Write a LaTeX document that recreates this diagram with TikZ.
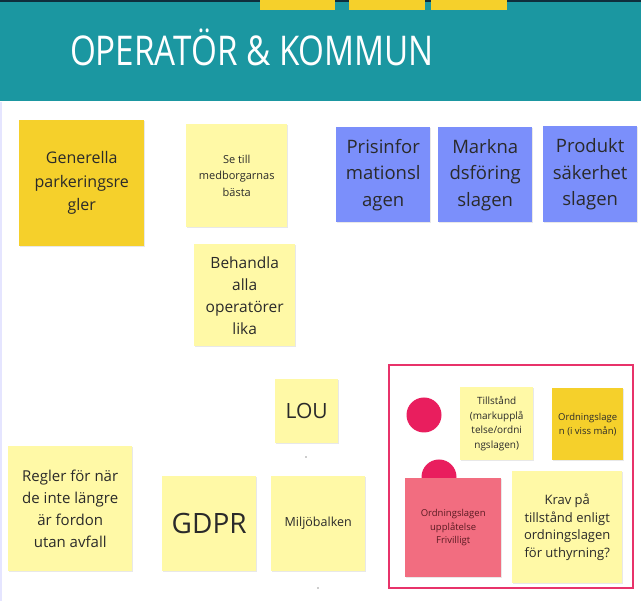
\documentclass[tikz,border=0pt]{standalone}
\usepackage{fontspec}
\setmainfont{Open Sans}
\usetikzlibrary{shadows}
\definecolor{teal}{HTML}{1B97A1}
\definecolor{navy}{HTML}{0F2E3D}
\definecolor{gold}{HTML}{F5D02B}
\definecolor{pale}{HTML}{FFF9A6}
\definecolor{lav}{HTML}{7B8FFB}
\definecolor{rose}{HTML}{F26D80}
\definecolor{frame}{HTML}{E8336A}
\definecolor{dot}{HTML}{E91E5E}
\definecolor{ink}{HTML}{2A2A2A}
\definecolor{wine}{HTML}{5A1A22}
\tikzset{
  note/.style={anchor=north west, inner sep=0pt, align=center, text=ink,
    drop shadow={opacity=0.18, shadow xshift=0.6pt, shadow yshift=-1pt}},
  fs/.style 2 args={font=\fontsize{#1}{#2}\selectfont}
}
\begin{document}
\begin{tikzpicture}[x=1pt, y=-1pt]
  \useasboundingbox (0,0) rectangle (641,601);
  \fill[white] (0,0) rectangle (641,601);
  % header band
  \fill[teal] (0,0) rectangle (641,101);
  \fill[navy] (0,0) rectangle (641,2);
  \foreach \xa/\xb in {260/335, 349/425, 431/507}
    \fill[gold] (\xa,0) rectangle (\xb,10);
  \node[text=white, font=\fontsize{41}{41}\selectfont] (title) at (252,47)
    {\scalebox{0.81}[1]{OPERATÖR \& KOMMUN}};
  \fill[blue!10] (0,102) rectangle (1.5,601);

  % left column
  \node[note, fill=gold, minimum width=125, minimum height=126, fs={16}{23.5}] (allm) at (19,120)
    {Generella\\parkeringsre\\gler};
  \node[note, fill=pale, minimum width=101, minimum height=103, fs={11}{16.5}] (basta) at (186,124)
    {Se till\\medborgarnas\\bästa};
  \node[note, fill=pale, minimum width=101, minimum height=102, fs={15.5}{22}] (lika) at (194,244)
    {Behandla\\alla\\operatörer\\lika};

  % lagar
  \node[note, fill=lav, minimum width=94, minimum height=95, fs={18.5}{26.5}] (pris) at (336,127)
    {Prisinfor\\mationsl\\agen};
  \node[note, fill=lav, minimum width=94, minimum height=95, fs={18.5}{26.5}] (mark) at (438,127)
    {Markna\\dsföring\\slagen};
  \node[note, fill=lav, minimum width=94, minimum height=96, fs={18.5}{26.5}] (prod) at (543,126)
    {Produkt\\säkerhet\\slagen};

  % bottom row
  \node[note, fill=pale, minimum width=63, minimum height=64, fs={21}{25}] (lou) at (275,379) {LOU};
  \node[note, fill=pale, minimum width=124, minimum height=125, fs={15}{22}] (fordon) at (8,446)
    {Regler för när\\de inte längre\\är fordon\\utan avfall};
  \node[note, fill=pale, minimum width=94, minimum height=95, fs={28}{32}] (gdpr) at (162,476) {GDPR};
  \node[note, fill=pale, minimum width=94, minimum height=95, fs={12.5}{16}] (miljo) at (271,476) {Miljöbalken};
  \fill[ink] (306,457) circle (0.7);
  \fill[ink] (318,588) circle (0.7);

  % ordningslagen group
  \draw[frame, line width=2] (389,365) rectangle (633,588);
  \fill[dot] (424,415) circle (17.5);
  \fill[dot] (439,477) circle (17.5);
  \node[note, fill=pale, minimum width=73, minimum height=73, fs={10}{14.5}] (tills) at (460,387)
    {Tillstånd\\(markupplå\\telse/ordni\\ngslagen)};
  \node[note, fill=gold, minimum width=71, minimum height=72, fs={9.5}{14}] (viss) at (552,388)
    {Ordningslage\\n (i viss mån)};
  \node[note, fill=rose, minimum width=96, minimum height=99, fs={9.5}{13.7}, text=wine] (frivil) at (405,478)
    {Ordningslagen\\upplåtelse\\Frivilligt};
  \node[note, fill=pale, minimum width=110, minimum height=112, fs={13}{17.7}] (krav) at (512,471)
    {Krav på\\tillstånd enligt\\ordningslagen\\för uthyrning?};
\end{tikzpicture}
\end{document}
